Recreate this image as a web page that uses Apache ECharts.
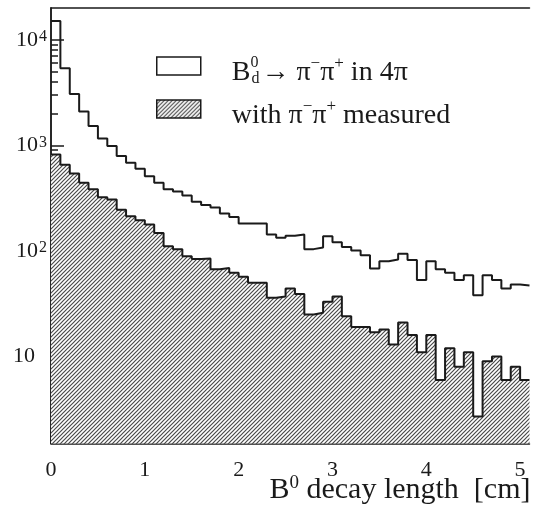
<!DOCTYPE html>
<html>
<head>
<meta charset="utf-8">
<script src="https://cdn.jsdelivr.net/npm/echarts@6/dist/echarts.min.js"></script>
<style>
html,body{margin:0;padding:0;background:#fff;}
#chart{width:545px;height:513px;}
</style>
</head>
<body>
<div id="chart"></div>
<script>
// histogram of B0 decay length, 0.1 cm bins from 0 to 5.1 cm
var binWidth = 0.1;
var xMax = 5.1;
var totalCounts = [15100, 5380, 3070, 2090, 1525, 1160, 985, 795, 685, 600,
  510, 442, 385, 365, 335, 292, 272, 258, 226, 210,
  182, 182, 182, 143, 133, 139, 143, 104, 108, 138,
  121, 109, 101, 91, 68, 80, 83, 94, 82, 53,
  80, 67, 62, 53, 59, 38, 59, 53, 44, 48, 47];
var measuredCounts = [820, 655, 540, 442, 385, 322, 307, 245, 213, 195,
  178, 148, 111, 104, 89, 84, 85, 67, 69, 62,
  57, 50, 50, 36, 37, 44, 39, 25, 26, 33,
  37, 24, 19, 19, 17, 18, 13, 21, 16, 11,
  16, 6, 12, 8, 11, 2.7, 9, 10, 6, 8, 6];

var xLabels = [0, 1, 2, 3, 4, 5];
var xMajorTicks = [0, 2, 4];
var xMinorTicks = [0.5, 1, 1.5, 2.5, 3, 3.5, 4.5, 5];
var yMin = 1.5, yMax = 20000;
var yLabels = [10, 100, 1000, 10000];
var yMinorTicks = [2, 3, 4, 5, 6, 7, 8, 9, 20, 30, 40, 50, 60, 70, 80, 90,
  200, 300, 400, 500, 600, 700, 800, 900, 2000, 3000, 4000, 5000, 6000, 7000, 8000, 9000];

var nameTotal = 'B_d^0 → π⁻π⁺ in 4π';
var nameMeasured = 'with π⁻π⁺ measured';

var serif = '"Liberation Serif", "DejaVu Serif", serif';
var ink = '#1a1a1a';

function toSteps(counts){
  var pts = counts.map(function(v, i){ return [+(i*binWidth).toFixed(2), v]; });
  pts.push([xMax, counts[counts.length-1]]);
  return pts;
}

function makeHatch(){
  var c = document.createElement('canvas');
  c.width = 4; c.height = 4;
  var ctx = c.getContext('2d');
  ctx.fillStyle = '#fff';
  ctx.fillRect(0, 0, 4, 4);
  ctx.strokeStyle = '#4a4a4a';
  ctx.lineWidth = 1.2;
  ctx.beginPath();
  ctx.moveTo(-1, 5); ctx.lineTo(5, -1);
  ctx.moveTo(-1, 1); ctx.lineTo(1, -1);
  ctx.moveTo(3, 5); ctx.lineTo(5, 3);
  ctx.stroke();
  return c;
}
var hatch = {image: makeHatch(), repeat: 'repeat'};

var chart = echarts.init(document.getElementById('chart'), null, {renderer: 'canvas'});

function xAxisBase(pos){
  return {
    type: 'value', position: pos, min: 0, max: xMax,
    splitLine: {show: false},
    axisLine: {show: false, lineStyle: {color: ink, width: 1.5}},
    axisTick: {show: false},
    axisLabel: {show: false}
  };
}
function yAxisBase(pos){
  return {
    type: 'log', logBase: 10, position: pos, min: yMin, max: yMax,
    splitLine: {show: false},
    axisLine: {show: false, lineStyle: {color: ink, width: 1.5}},
    axisTick: {show: false},
    axisLabel: {show: false}
  };
}

var x0 = xAxisBase('bottom');
x0.axisLine.show = true;
x0.axisTick = {show: true, inside: true, length: 13, customValues: xMajorTicks, lineStyle: {color: ink, width: 1.5}};
x0.axisLabel = {show: true, customValues: xLabels, fontSize: 22, fontFamily: serif, color: ink, margin: 16};
x0.name = '{n|B}{s|0}{n| decay length  [cm]}';
x0.nameLocation = 'end';
x0.nameGap = 1;
x0.nameMoveOverlap = false;
x0.nameTextStyle = {
  align: 'right', verticalAlign: 'top', padding: [30, 0, 0, 0],
  rich: {
    n: {fontSize: 30, fontFamily: serif, color: ink, lineHeight: 34},
    s: {fontSize: 19, fontFamily: serif, color: ink, lineHeight: 19, verticalAlign: 'top'}
  }
};

var x1 = xAxisBase('bottom');
x1.axisTick = {show: true, inside: true, length: 6, customValues: xMinorTicks, lineStyle: {color: ink, width: 1.5}};

var x2 = xAxisBase('top');
x2.axisLine.show = true;

var y0 = yAxisBase('left');
y0.axisLine.show = true;
y0.axisTick = {show: true, inside: true, length: 13, customValues: yLabels, lineStyle: {color: ink, width: 1.5}};
y0.axisLabel = {
  show: true, customValues: yLabels, margin: 4,
  formatter: function(v){
    var e = Math.round(Math.log10(v));
    return e === 1 ? '{b|10}{pad|}' : '{b|10}{e|' + e + '}';
  },
  rich: {
    b: {fontSize: 22, fontFamily: serif, color: ink, lineHeight: 22},
    e: {fontSize: 16, fontFamily: serif, color: ink, lineHeight: 15, verticalAlign: 'top', padding: [0, 0, 0, 1]},
    pad: {width: 12}
  }
};

var y1 = yAxisBase('left');
y1.axisTick = {show: true, inside: true, length: 7, customValues: yMinorTicks, lineStyle: {color: ink, width: 1.5}};

var y2 = yAxisBase('right');
y2.axisLine.show = true;

// a tall empty spacer lets the legend text sit a little below the box centre
function legendText(name){
  if (name === nameTotal) {
    return '{sp|}{gap|}{t|B}{s0|0}{sub|d}{t|→ π}{sup|−}{t|π}{sup|+}{t| in 4π}';
  }
  return '{sp|}{gap|}{t|with π}{sup|−}{t|π}{sup|+}{t| measured}';
}

var option = {
  animation: false,
  backgroundColor: '#fff',
  grid: {left: 51, top: 8, width: 478.5, height: 435.5, show: false, containLabel: false, outerBoundsMode: 'none'},
  legend: {
    orient: 'vertical', left: 156, top: 45, padding: 0,
    itemWidth: 44, itemHeight: 18, itemGap: 1,
    selectedMode: false,
    icon: 'rect',
    formatter: legendText,
    textStyle: {
      fontSize: 28, fontFamily: serif, color: ink,
      rich: {
        sp: {width: 0, lineHeight: 42},
        gap: {width: 26, lineHeight: 32, verticalAlign: 'bottom'},
        t: {fontSize: 28, fontFamily: serif, color: ink, lineHeight: 32, verticalAlign: 'bottom'},
        s0: {fontSize: 16, fontFamily: serif, color: ink, lineHeight: 16, verticalAlign: 'top', padding: [10, 0, 0, 0], width: 1},
        sup: {fontSize: 17, fontFamily: serif, color: ink, lineHeight: 16, verticalAlign: 'top', padding: [10, 0, 0, 0]},
        sub: {fontSize: 16, fontFamily: serif, color: ink, lineHeight: 16, verticalAlign: 'bottom', width: 10}
      }
    },
    data: [
      {name: nameTotal, itemStyle: {color: '#fff', borderColor: ink, borderWidth: 1.5}},
      {name: nameMeasured, itemStyle: {color: hatch, borderColor: ink, borderWidth: 1.5}}
    ]
  },
  xAxis: [x0, x1, x2],
  yAxis: [y0, y1, y2],
  series: [
    {
      name: nameMeasured, type: 'line', step: 'end',
      xAxisIndex: 0, yAxisIndex: 0,
      data: toSteps(measuredCounts),
      showSymbol: false, symbol: 'none',
      lineStyle: {color: ink, width: 2},
      itemStyle: {color: hatch},
      areaStyle: {color: hatch, opacity: 1, origin: 'start'},
      z: 2
    },
    {
      name: nameTotal, type: 'line', step: 'end',
      xAxisIndex: 0, yAxisIndex: 0,
      data: toSteps(totalCounts),
      showSymbol: false, symbol: 'none',
      lineStyle: {color: ink, width: 2},
      itemStyle: {color: '#fff'},
      z: 3
    }
  ]
};
chart.setOption(option);
</script>
</body>
</html>
